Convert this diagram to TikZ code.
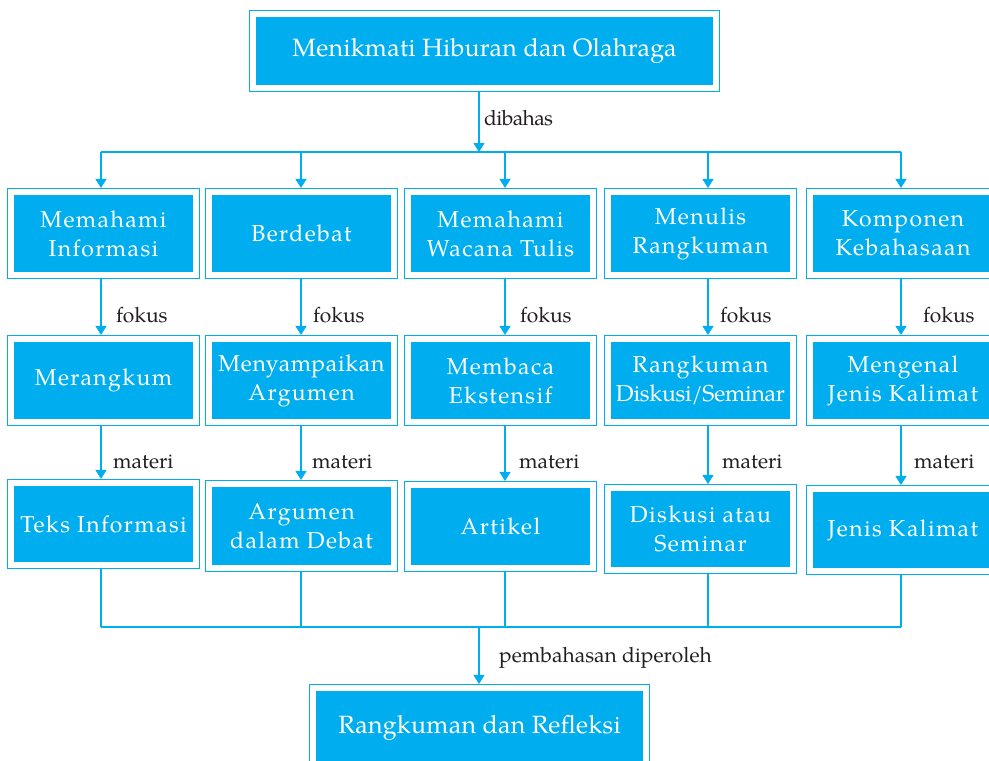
\documentclass[tikz,border=0pt]{standalone}
\usepackage{fontspec}
\setmainfont{TeX Gyre Pagella}
\usetikzlibrary{arrows.meta}
\definecolor{cy}{HTML}{00AEEF}
\definecolor{ink}{HTML}{231F20}
\newcommand\boxfont{\fontsize{23}{29}\selectfont\addfontfeature{LetterSpace=6}}
\newcommand\topfont{\fontsize{25}{29}\selectfont\addfontfeature{LetterSpace=1}}
\newcommand\lblfont{\fontsize{21}{24}\selectfont}
\tikzset{
  cbox/.style={fill=cy, text=white, inner sep=0pt, align=center, font=\boxfont},
  frame/.style={draw=cy, line width=1.1pt, inner sep=0pt},
  conn/.style={draw=cy, line width=1.1pt},
  arr/.style={conn, -{Triangle[width=11pt,length=9pt]}},
  lbl/.style={text=ink, font=\lblfont, anchor=base west, inner sep=0pt},
}
% name, cx, cy, w, h, gap, text
\newcommand\cybox[7]{%
  \node[frame, minimum width={#4pt+2*#6pt}, minimum height={#5pt+2*#6pt}] (#1) at (#2,#3) {};
  \node[cbox, minimum width=#4pt, minimum height=#5pt] (#1i) at (#2,#3) {#7};
}
\begin{document}
\begin{tikzpicture}[x=1pt,y=-1pt]
\useasboundingbox (0,0) rectangle (989,761);
% column axes
\coordinate (k0) at (479,0);
\coordinate (k1) at (101,0);
\coordinate (k2) at (301,0);
\coordinate (k3) at (505,0);
\coordinate (k4) at (708,0);
\coordinate (k5) at (901,0);
\coordinate (bus1) at (479,152);
\coordinate (bus2) at (479,627);
% boxes
\cybox{top}{484.5}{51}{457}{68}{6.5}{\topfont Menikmati Hiburan dan Olahraga}
\cybox{r1c1}{103.5}{233.5}{179}{77}{6.5}{Memahami\\Informasi}
\cybox{r1c2}{301.5}{233.5}{179}{77}{6.5}{Berdebat}
\cybox{r1c3}{500.5}{233.5}{179}{77}{6.5}{Memahami\\Wacana Tulis}
\cybox{r1c4}{700.5}{233.5}{179}{77}{6.5}{Menulis\\Rangkuman}
\cybox{r1c5}{903}{233.5}{180}{77}{6.5}{Komponen\\Kebahasaan}
\cybox{r2c1}{103.5}{380.5}{179}{77}{6.5}{Merangkum}
\cybox{r2c2}{301.5}{380.5}{179}{77}{6.5}{\addfontfeature{LetterSpace=3}Menyampaikan\\Argumen}
\cybox{r2c3}{500.5}{380.5}{179}{77}{6.5}{Membaca\\Ekstensif}
\cybox{r2c4}{700.5}{380.5}{179}{77}{6.5}{Rangkuman\\{\addfontfeature{LetterSpace=-1}Diskusi/Seminar}}
\cybox{r2c5}{903}{380.5}{180}{77}{6.5}{Mengenal\\Jenis Kalimat}
\cybox{r3c1}{103.5}{524}{179}{76}{6.5}{Teks Informasi}
\cybox{r3c2}{301.5}{526}{179}{78}{6.5}{Argumen\\dalam Debat}
\cybox{r3c3}{500.5}{526.5}{179}{77}{6.5}{Artikel}
\cybox{r3c4}{700.5}{529}{179}{76}{6.5}{Diskusi atau\\Seminar}
\cybox{r3c5}{903}{530}{180}{76}{6.5}{Jenis Kalimat}
\cybox{bot}{479.5}{731}{327}{80}{6.5}{\raisebox{13pt}{\topfont Rangkuman dan Refleksi}}
% connectors
\draw[arr] (top.south -| k0) -- (bus1);
\draw[conn] (bus1 -| k1) -- (bus1 -| k5);
\foreach \i in {1,...,5}{
  \draw[arr] (bus1 -| k\i) -- (r1c\i.north -| k\i);
  \draw[arr] (r1c\i.south -| k\i) -- (r2c\i.north -| k\i);
  \draw[arr] (r2c\i.south -| k\i) -- (r3c\i.north -| k\i);
  \draw[conn] (r3c\i.south -| k\i) -- (bus2 -| k\i);
}
\draw[conn] (bus2 -| k1) -- (bus2 -| k5);
\draw[arr] (bus2) -- (bot.north -| k0);
% labels
\node[lbl] (l0) at (484,125) {\addfontfeature{LetterSpace=-3}dibahas};
\node[lbl] (f1) at (116,322) {fokus};
\node[lbl] (f2) at (313,322) {fokus};
\node[lbl] (f3) at (520,322) {fokus};
\node[lbl] (f4) at (720,322) {fokus};
\node[lbl] (f5) at (923,322) {fokus};
\node[lbl] (m1) at (113,468) {materi};
\node[lbl] (m2) at (312,468) {materi};
\node[lbl] (m3) at (519,468) {materi};
\node[lbl] (m4) at (722,468) {materi};
\node[lbl] (m5) at (914,468) {materi};
\node[lbl] (l6) at (499,662) {pembahasan diperoleh};
\end{tikzpicture}
\end{document}
